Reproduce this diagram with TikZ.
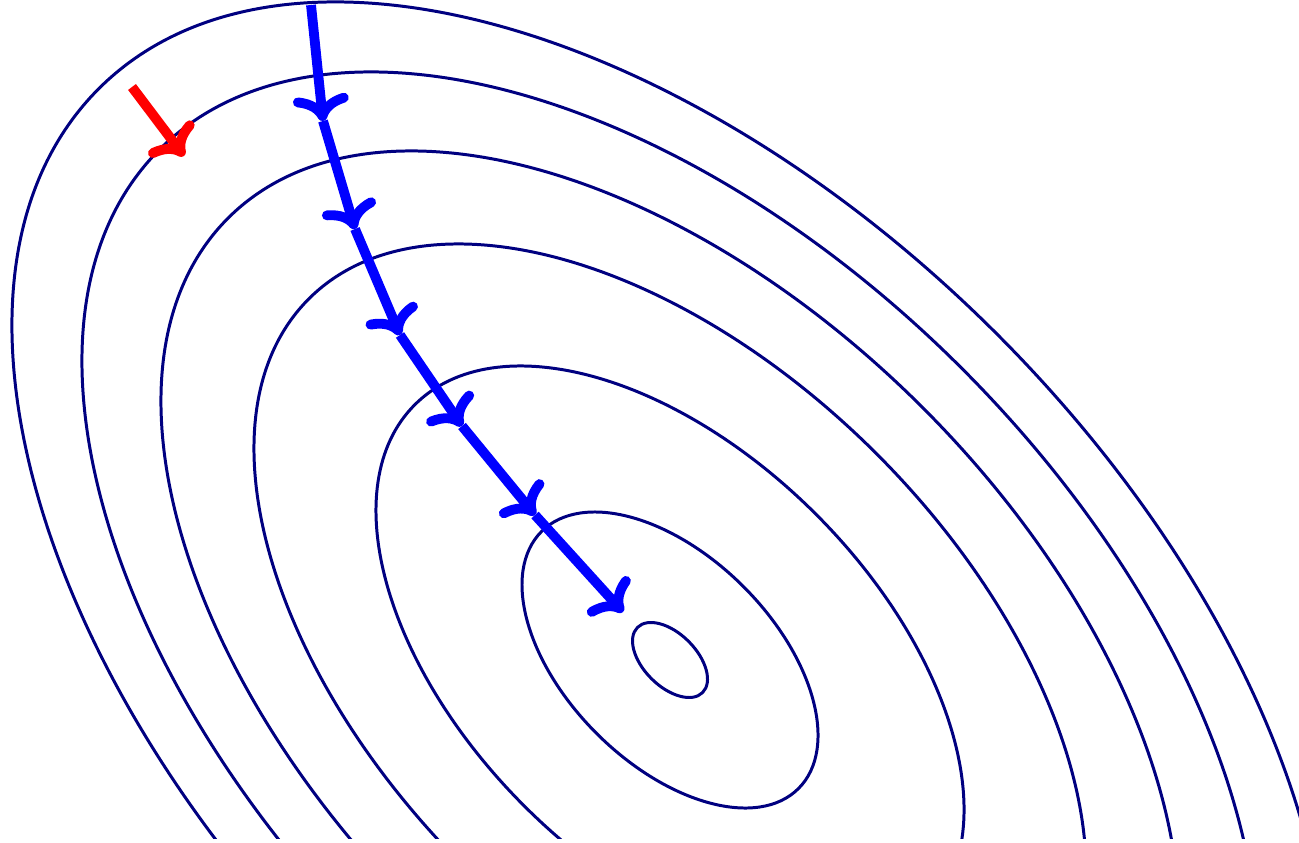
\documentclass[tikz,border=0pt]{standalone}
\usepackage{xcolor,tikz}
\usetikzlibrary{arrows.meta,calc}
\definecolor{level}{HTML}{000080}
\definecolor{stepblue}{HTML}{0000FF}
\definecolor{steepred}{HTML}{FF0000}
\tikzset{
  contour/.style={level,line width=0.85pt},
  descent/.style={line width=2.8pt,
    -{Computer Modern Rightarrow[length=2.6mm,width=5.6mm]}},
}

\begin{document}
\begin{tikzpicture}[x=0.1mm,y=0.1mm]
\useasboundingbox (0,0) rectangle (1299,842);
\clip (0,4) rectangle (1299,842);
% level sets around the minimum
\coordinate (ctr) at (670,182);
\foreach \e in {37.5,148,294,416,509,588,658}
  \draw[contour,rotate around={-45:(ctr)}] (ctr) ellipse [x radius={1.2278*\e}, y radius={0.7016*\e}];
% descent steps
\coordinate (s0) at (311,837);
\coordinate (s1) at (323,721);
\coordinate (s2) at (355,613);
\coordinate (s3) at (400,507);
\coordinate (s4) at (462,416);
\coordinate (s5) at (535,327);
\coordinate (s6) at (623,230);
\draw[descent,stepblue] (s0) -- (s1);
\draw[descent,stepblue] (s1) -- (s2);
\draw[descent,stepblue] (s2) -- (s3);
\draw[descent,stepblue] (s3) -- (s4);
\draw[descent,stepblue] (s4) -- (s5);
\draw[descent,stepblue] (s5) -- (s6);
% gradient direction
\coordinate (g0) at (132,755);
\coordinate (g1) at (184,686);
\draw[descent,steepred] (g0) -- (g1);
\end{tikzpicture}
\end{document}
